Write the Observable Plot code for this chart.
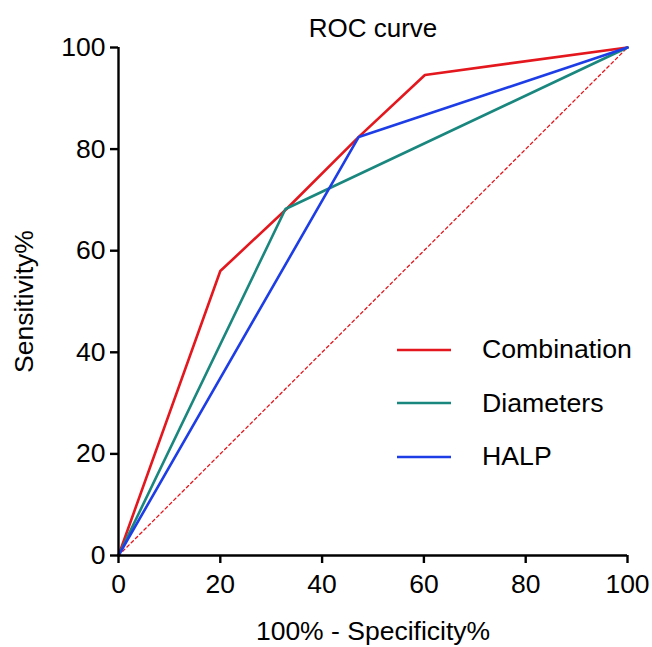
<!DOCTYPE html>
<html>
<head>
<meta charset="utf-8">
<script src="https://cdn.jsdelivr.net/npm/d3@7"></script>
<script src="https://cdn.jsdelivr.net/npm/@observablehq/plot@0.6"></script>
<style>
  body { margin: 0; background: #fff; }
  #wrap { position: relative; width: 652px; height: 647px; font-family: "Liberation Sans", Arial, sans-serif; }
  #legend { position: absolute; left: 397px; top: 323px; }
  .item { display: flex; align-items: center; height: 53.5px; font-size: 26.7px; color: #000; }
  .item svg { margin-right: 31px; }
</style>
</head>
<body>
<div id="wrap"></div>
<script>
const title = "ROC curve";
const xLabel = "100% - Specificity%";
const yLabel = "Sensitivity%";
const ticks = [0, 20, 40, 60, 80, 100];
const seriesNames = ["Combination", "Diameters", "HALP"];
const seriesColors = ["#e3171d", "#1a877f", "#1d3de6"];

const combinationX = [0, 20, 33, 47.2, 60.2, 100];
const combinationY = [0, 56, 68.2, 82.4, 94.6, 100];
const diametersX = [0, 32.8, 100];
const diametersY = [0, 68.2, 100];
const halpX = [0, 47.2, 100];
const halpY = [0, 82.4, 100];
const refX = [0, 100];
const refY = [0, 100];

const rows = [];
[[combinationX, combinationY], [diametersX, diametersY], [halpX, halpY]].forEach(([xs, ys], i) => {
  xs.forEach((x, j) => rows.push({series: seriesNames[i], x, y: ys[j]}));
});
const ref = refX.map((x, i) => ({x, y: refY[i]}));

const plot = Plot.plot({
  width: 652,
  height: 647,
  marginLeft: 118,
  marginRight: 25,
  marginTop: 47,
  marginBottom: 92,
  style: {fontFamily: "Liberation Sans, Arial, sans-serif", fontSize: "26px", color: "#000", background: "#fff"},
  x: {domain: [0, 100]},
  y: {domain: [0, 100]},
  color: {domain: seriesNames, range: seriesColors},
  marks: [
    Plot.line(ref, {x: "x", y: "y", stroke: seriesColors[0], strokeWidth: 1.3, strokeDasharray: "3,3"}),
    Plot.line(rows, {x: "x", y: "y", z: "series", stroke: "series", strokeWidth: 2.6, strokeLinejoin: "miter"}),
    Plot.ruleX([0], {y1: 0, y2: 100, stroke: "#000", strokeWidth: 2.4}),
    Plot.ruleY([0], {x1: 0, x2: 100, stroke: "#000", strokeWidth: 2.4}),
    Plot.axisX({ticks, tickSize: 8, tickPadding: 11, strokeWidth: 2.4, fontSize: 26.5, label: xLabel, labelAnchor: "center", labelArrow: "none", labelOffset: 84}),
    Plot.axisY({ticks, tickSize: 8, tickPadding: 5, strokeWidth: 2.4, fontSize: 26.5, label: yLabel, labelAnchor: "center", labelArrow: "none", labelOffset: 104}),
    Plot.text([title], {frameAnchor: "top", lineAnchor: "middle", dy: -19, text: d => d, fontSize: 26})
  ]
});

const wrap = document.getElementById("wrap");
wrap.appendChild(plot);
const legend = document.createElement("div");
legend.id = "legend";
seriesNames.forEach((name, i) => {
  const item = document.createElement("div");
  item.className = "item";
  item.innerHTML = `<svg width="54" height="4"><line x1="0" y1="2" x2="54" y2="2" stroke="${seriesColors[i]}" stroke-width="2.6"/></svg><span>${name}</span>`;
  legend.appendChild(item);
});
wrap.appendChild(legend);
</script>
</body>
</html>
